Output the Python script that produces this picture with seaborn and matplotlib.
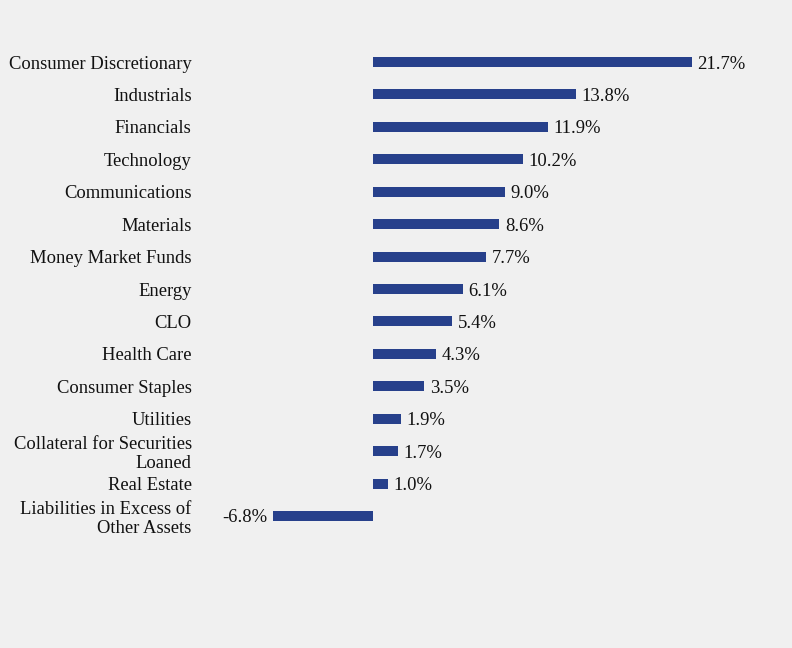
import matplotlib
matplotlib.use("Agg")
import matplotlib.pyplot as plt
import seaborn as sns
import pandas as pd

sectors = [
    "Consumer Discretionary", "Industrials", "Financials", "Technology",
    "Communications", "Materials", "Money Market Funds", "Energy", "CLO",
    "Health Care", "Consumer Staples", "Utilities",
    "Collateral for Securities\nLoaned", "Real Estate",
    "Liabilities in Excess of\nOther Assets",
]
weights = [21.7, 13.8, 11.9, 10.2, 9.0, 8.6, 7.7, 6.1, 5.4, 4.3, 3.5, 1.9, 1.7, 1.0, -6.8]

df = pd.DataFrame({"sector": sectors, "weight": weights})

bg = "#f0f0f0"
bar_color = "#27408b"
fs = 13.4

sns.set_style("white")
plt.rcParams["font.family"] = ["Liberation Serif", "DejaVu Serif"]

fig = plt.figure(figsize=(7.92, 6.48), dpi=100, facecolor=bg)
W, H = 792, 648
# axes placed in pixel terms: zero line at x=373, 14.7 px per percent
left_px, right_px = 200, 780
top_px, bot_px = 45.8, 532.2
ax = fig.add_axes([left_px / W, 1 - bot_px / H, (right_px - left_px) / W, (bot_px - top_px) / H])
ax.set_facecolor(bg)

sns.barplot(data=df, x="weight", y="sector", orient="h", color=bar_color,
            width=0.31, saturation=1, linewidth=0, ax=ax)

ppu = 14.7
ax.set_xlim(-(373 - left_px) / ppu, (right_px - 373) / ppu)
ax.set_ylim(len(sectors) - 0.5, -0.5)

for i, v in enumerate(weights):
    if v >= 0:
        ax.annotate(f"{v:.1f}%", (v, i), xytext=(4, 0), textcoords="offset points",
                    ha="left", va="center_baseline", fontsize=fs, color="#111111")
    else:
        ax.annotate(f"{v:.1f}%", (v, i), xytext=(-4, 0), textcoords="offset points",
                    ha="right", va="center_baseline", fontsize=fs, color="#111111")

ax.set_xlabel("")
ax.set_ylabel("")
ax.set_xticks([])
ax.tick_params(axis="y", length=0, pad=6, labelsize=fs, labelcolor="#111111")
for lbl in ax.get_yticklabels():
    lbl.set_linespacing(1.13)
for s in ax.spines.values():
    s.set_visible(False)

fig.savefig("out.png", dpi=100, facecolor=bg)
